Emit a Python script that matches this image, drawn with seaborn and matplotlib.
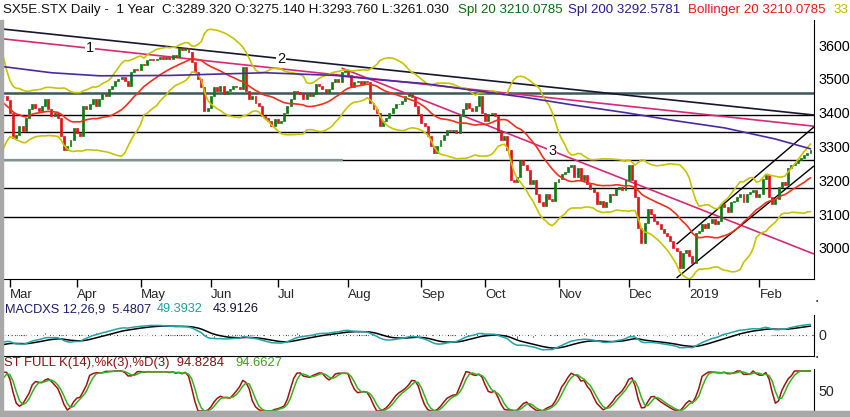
import numpy as np
import pandas as pd
import matplotlib
matplotlib.use("Agg")
import matplotlib.pyplot as plt
from matplotlib.patches import Rectangle
import seaborn as sns

# ---------------- data ----------------
# Jan 2 - Feb 26 2018, only used to warm up the indicators (not drawn)
pre_close = [3490, 3525, 3580, 3610, 3615, 3620, 3590, 3580, 3600, 3600, 3610,
             3600, 3610, 3640, 3650, 3670, 3640, 3640, 3650, 3620, 3580, 3610,
             3560, 3520, 3460, 3400, 3440, 3420, 3330, 3350, 3360, 3380, 3390,
             3400, 3390, 3400, 3420, 3410, 3430, 3450]

close_feb18 = [3450, 3438]
close_mar = [3400, 3325, 3335, 3360, 3345, 3385, 3410, 3425, 3415, 3405, 3420,
             3440, 3410, 3390, 3400, 3385, 3330, 3290, 3300, 3320, 3355]
close_apr = [3340, 3330, 3420, 3410, 3425, 3440, 3420, 3440, 3455, 3450, 3470,
             3480, 3495, 3500, 3505, 3495, 3480, 3520, 3530, 3525]
close_may = [3545, 3540, 3555, 3560, 3555, 3560, 3565, 3560, 3565, 3560, 3570,
             3565, 3590, 3585, 3590, 3580, 3550, 3520, 3500, 3475, 3405, 3415]
close_jun = [3450, 3475, 3465, 3480, 3455, 3465, 3470, 3480, 3475, 3470, 3535,
             3465, 3440, 3450, 3430, 3420, 3390, 3385, 3375, 3360, 3380]
close_jul = [3370, 3375, 3400, 3420, 3440, 3465, 3460, 3455, 3440, 3455, 3450,
             3455, 3485, 3480, 3470, 3460, 3470, 3490, 3500, 3490, 3520, 3525]
close_aug = [3510, 3475, 3490, 3495, 3485, 3495, 3490, 3430, 3410, 3400, 3360,
             3375, 3385, 3400, 3415, 3425, 3425, 3435, 3450, 3455, 3445, 3420, 3395]
close_sep = [3370, 3360, 3330, 3300, 3280, 3300, 3320, 3335, 3350, 3345, 3350,
             3340, 3390, 3410, 3430, 3415, 3405, 3420, 3450, 3400]
close_oct = [3375, 3395, 3400, 3390, 3345, 3320, 3330, 3290, 3200, 3195, 3210,
             3260, 3245, 3230, 3190, 3200, 3160, 3135, 3125, 3160, 3145, 3140, 3195]
close_nov = [3205, 3220, 3225, 3240, 3245, 3210, 3235, 3200, 3215, 3190, 3175,
             3165, 3130, 3140, 3120, 3135, 3160, 3155, 3175, 3180, 3170, 3200]
close_dec = [3245, 3200, 3150, 3060, 3015, 3075, 3115, 3100, 3080, 3070, 3055,
             3045, 3035, 3020, 3000, 2990, 2940, 2985, 2995]
close_jan = [2975, 2955, 3045, 3050, 3070, 3060, 3075, 3085, 3070, 3080, 3130,
             3120, 3105, 3135, 3140, 3150, 3160, 3135, 3160, 3165, 3170, 3150]
close_feb = [3160, 3205, 3215, 3150, 3130, 3145, 3180, 3195, 3185, 3235, 3245,
             3250, 3260, 3265, 3275, 3280, 3289]

holidays = ["2018-03-30", "2018-04-02", "2018-05-01", "2018-12-25",
            "2018-12-26", "2019-01-01"]

# 200 day average, read at a few dates
sma200_dates = ["2018-02-27", "2018-03-20", "2018-04-12", "2018-05-15", "2018-06-26",
                "2018-07-26", "2018-08-15", "2018-09-04", "2018-09-26", "2018-10-17",
                "2018-11-08", "2018-11-30", "2018-12-21", "2019-01-17", "2019-02-08",
                "2019-02-25"]
sma200_vals = [3536, 3518, 3509, 3510, 3518, 3510, 3497, 3486, 3465, 3446,
               3422, 3400, 3377, 3355, 3322, 3293]

h_levels = [3459, 3393, 3342, 3260, 3178, 3091]

line1_dates, line1_vals = ["2018-02-27", "2019-02-25"], [3618, 3361]
line2_dates, line2_vals = ["2018-02-27", "2019-02-25"], [3647, 3394]
line3_dates, line3_vals = ["2018-07-30", "2019-02-25"], [3532, 2986]
chan_hi_dates, chan_hi_vals = ["2018-12-24", "2019-02-25"], [3011, 3349]
chan_lo_dates, chan_lo_vals = ["2018-12-24", "2019-02-25"], [2911, 3234]
label_dates = {"1": "2018-04-09", "2": "2018-07-03", "3": "2018-10-30"}

# ---------------- prepare ----------------
close = np.array(close_feb18 + close_mar + close_apr + close_may + close_jun +
                 close_jul + close_aug + close_sep + close_oct + close_nov +
                 close_dec + close_jan + close_feb, dtype=float)
days = pd.bdate_range("2018-02-27", "2019-02-25")
days = days[~days.isin(pd.to_datetime(holidays))]
n = min(len(days), len(close))
days, close = days[:n], close[:n]
idx = np.arange(n)
pos = pd.Series(idx, index=days)

k = len(pre_close)
full = pd.Series(list(map(float, pre_close)) + list(close))
sma20 = full.rolling(20).mean().to_numpy()[k:]
sd20 = full.rolling(20).std(ddof=0).to_numpy()[k:]
upper, lower = sma20 + 2 * sd20, sma20 - 2 * sd20

ema12 = full.ewm(span=12, adjust=False).mean()
ema26 = full.ewm(span=26, adjust=False).mean()
macd_full = ema12 - ema26
sig_full = macd_full.ewm(span=9, adjust=False).mean()
macd = macd_full.to_numpy()[k:]
signal = sig_full.to_numpy()[k:]
hist = macd - signal

lo14, hi14 = full.rolling(14).min(), full.rolling(14).max()
raw_k = 100 * (full - lo14) / (hi14 - lo14)
pct_k = raw_k.rolling(3).mean()
pct_d = pct_k.rolling(3).mean()
pct_k, pct_d = pct_k.to_numpy()[k:], pct_d.to_numpy()[k:]

opens = np.r_[pre_close[-1], close[:-1]]

# ---------------- figure ----------------
sns.set_style("white")
plt.rcParams["font.family"] = ["Liberation Sans", "DejaVu Sans"]

W, H = 850, 417
fig = plt.figure(figsize=(W / 100, H / 100), dpi=100)


def px_box(x0, y0, x1, y1):
    return [x0 / W, 1 - y1 / H, (x1 - x0) / W, (y1 - y0) / H]


ax = fig.add_axes(px_box(3, 20, 814, 279))
ax_m = fig.add_axes(px_box(3, 315, 814, 356), sharex=ax)
ax_s = fig.add_axes(px_box(3, 369, 814, 411), sharex=ax)

xl = (-0.16, 254.1)
ax.set_xlim(*xl)
ax.set_ylim(2908, 3674)

# horizontal levels
for lv in h_levels:
    if lv == 3459:
        ax.axhline(lv, color="#3b5858", lw=1.8, zorder=1)
    else:
        ax.axhline(lv, color="black", lw=1.0, zorder=1)
ax.plot([xl[0], pos["2018-07-30"]], [3260, 3260], color="#7f9393", lw=1.6, zorder=1)


def seg(dates, vals, x):
    x0, x1 = pos[dates[0]], pos[dates[1]]
    return vals[0] + (vals[1] - vals[0]) * (x - x0) / (x1 - x0)


def trend(dates, vals, color, lw, x_start=None):
    xs = xl[0] if x_start is None else pos[dates[0]]
    xe = xl[1]
    ax.plot([xs, xe], [seg(dates, vals, xs), seg(dates, vals, xe)],
            color=color, lw=lw, zorder=2, solid_capstyle="butt")


trend(line2_dates, line2_vals, "#161630", 1.2)
trend(line1_dates, line1_vals, "#d42a78", 1.2)
trend(line3_dates, line3_vals, "#d42a78", 1.2, x_start=True)
trend(chan_hi_dates, chan_hi_vals, "black", 1.0, x_start=True)
trend(chan_lo_dates, chan_lo_vals, "black", 1.0, x_start=True)

for txt, d, dates, vals in [("1", label_dates["1"], line1_dates, line1_vals),
                            ("2", label_dates["2"], line2_dates, line2_vals),
                            ("3", label_dates["3"], line3_dates, line3_vals)]:
    xx = pos[d]
    ax.text(xx, seg(dates, vals, xx), txt, ha="center", va="center", fontsize=10.5,
            color="#111111", zorder=3,
            bbox=dict(facecolor="white", edgecolor="none", pad=0.6))

# candles
cols = np.where(close >= opens, "#0e7a10", "#e0141a")
ax.bar(idx, close - opens, bottom=opens, width=0.62, color=cols,
       edgecolor=cols, linewidth=0.5, zorder=4)

# overlays
sns.lineplot(x=idx, y=upper, ax=ax, color="#c9c400", lw=1.2, zorder=5)
sns.lineplot(x=idx, y=lower, ax=ax, color="#c9c400", lw=1.2, zorder=5)
sns.lineplot(x=idx, y=sma20, ax=ax, color="#f0301c", lw=1.2, zorder=5)
sns.lineplot(x=pos[pd.to_datetime(sma200_dates)].to_numpy(), y=sma200_vals, ax=ax,
             color="#4a2aa0", lw=1.2, zorder=5)

ax.yaxis.tick_right()
ax.set_yticks([3000, 3100, 3200, 3300, 3400, 3500, 3600])
ax.tick_params(axis="y", length=0, pad=3, labelsize=10.3, labelcolor="black")
new_month = np.r_[False, days.month[1:] != days.month[:-1]]
ticks = idx[new_month]
labels = ["2019" if (d.month == 1) else d.strftime("%b") for d in days[new_month]]
ax.set_xticks(ticks)
ax.set_xticklabels(labels, ha="left")
ax.tick_params(axis="x", length=6, width=1, direction="out", pad=1, labelsize=9.5,
               color="black", bottom=True)

# MACD panel
ax_m.bar(idx, hist, width=0.35, color="#1c1c78", zorder=2)
ax_m.axhline(0, color="black", lw=0.8, ls=(0, (1, 1)), zorder=1)
sns.lineplot(x=idx, y=signal, ax=ax_m, color="black", lw=1.1, zorder=3)
sns.lineplot(x=idx, y=macd, ax=ax_m, color="#20a4a4", lw=1.1, zorder=3)
ax_m.set_ylim(-85, 80)
ax_m.yaxis.tick_right()
ax_m.set_yticks([0])
ax_m.tick_params(axis="y", length=0, pad=3, labelsize=10.3)
ax_m.tick_params(axis="x", bottom=False, labelbottom=False)

# Stochastic panel
sns.lineplot(x=idx, y=pct_k, ax=ax_s, color="#a01212", lw=1.1)
sns.lineplot(x=idx, y=pct_d, ax=ax_s, color="#35b21f", lw=1.1)
ax_s.set_ylim(0, 105)
ax_s.yaxis.tick_right()
ax_s.set_yticks([50])
ax_s.tick_params(axis="y", length=0, pad=3, labelsize=10.3)
ax_s.tick_params(axis="x", bottom=False, labelbottom=False)

for a in (ax, ax_m, ax_s):
    a.spines["left"].set_visible(False)
    a.spines["top"].set_visible(False)
    a.spines["right"].set_color("black")
    a.spines["bottom"].set_color("black")
    a.set_xlabel("")
    a.set_ylabel("")
    a.set_facecolor("white")

# window frame
fig.patches.append(Rectangle((0, 0), 3 / W, (H - 20) / H, transform=fig.transFigure,
                             color="#a8a8a8", zorder=0))
fig.patches.append(Rectangle((0, 0), 1, 6 / H, transform=fig.transFigure,
                             color="#a8a8a8", zorder=0))

# small marks at the MACD scale ends
for yy in (302, 358):
    fig.text(817 / W, 1 - yy / H, "\u2022", fontsize=5, ha="center", va="center")

# header texts
ty = 1 - 10 / H
for x, txt, c in [(3, "SX5E.STX Daily -  1 Year", "#111111"),
                  (162, "C:3289.320 O:3275.140 H:3293.760 L:3261.030", "#111111"),
                  (458, "Spl 20 3210.0785", "#0b6b12"),
                  (568, "Spl 200 3292.5781", "#2a1c86"),
                  (688, "Bollinger 20 3210.0785", "#e31b1b"),
                  (833, "33", "#c2b800")]:
    fig.text(x / W, ty, txt, color=c, fontsize=9.6, ha="left", va="center")

my = 1 - 309 / H
for x, txt, c in [(5, "MACDXS 12,26,9  5.4807", "#1c1c6a"),
                  (157, "49.3932", "#1f9c9c"),
                  (213, "43.9126", "#111133")]:
    fig.text(x / W, my, txt, color=c, fontsize=9.2, ha="left", va="center")

sy = 1 - 363 / H
for x, txt, c in [(4, "ST FULL K(14),%k(3),%D(3)  94.8284", "#8c1212"),
                  (235, "94.6627", "#3aa41c")]:
    fig.text(x / W, sy, txt, color=c, fontsize=9.4, ha="left", va="center")

fig.savefig("out.png", dpi=100)
